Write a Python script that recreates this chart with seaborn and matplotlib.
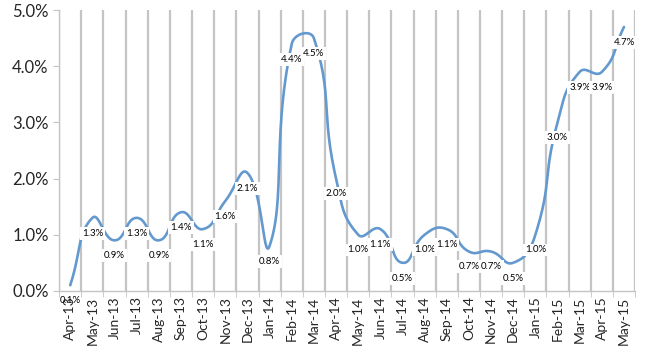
"""
Monthly rate line chart (smoothed, Excel style)
"""
import numpy as np
import pandas as pd
import matplotlib
matplotlib.use('Agg')
import matplotlib.pyplot as plt
import seaborn as sns
from matplotlib.ticker import FuncFormatter, FixedLocator

months = ['Apr-13', 'May-13', 'Jun-13', 'Jul-13', 'Aug-13', 'Sep-13', 'Oct-13',
          'Nov-13', 'Dec-13', 'Jan-14', 'Feb-14', 'Mar-14', 'Apr-14', 'May-14',
          'Jun-14', 'Jul-14', 'Aug-14', 'Sep-14', 'Oct-14', 'Nov-14', 'Dec-14',
          'Jan-15', 'Feb-15', 'Mar-15', 'Apr-15', 'May-15']
rates = [0.1, 1.3, 0.9, 1.3, 0.9, 1.4, 1.1, 1.6, 2.1, 0.8, 4.4, 4.5, 2.0, 1.0,
         1.1, 0.5, 1.0, 1.1, 0.7, 0.7, 0.5, 1.0, 3.0, 3.9, 3.9, 4.7]
y_ticks = [0, 1, 2, 3, 4, 5]

LINE_COLOR = '#6499cf'
GRID_COLOR = '#c4c4c4'


def excel_smooth(x, y, yscale=2.54, tension=0.5, n=30):
    """Bezier smoothing similar to Excel's 'smoothed line' option"""
    px = np.asarray(x, float)
    py = np.asarray(y, float) * yscale
    pts = np.column_stack([px, py])
    pts = np.vstack([pts[0], pts, pts[-1]])
    out = []
    t = np.linspace(0, 1, n)
    for i in range(1, len(pts) - 2):
        p0, p1, p2, p3 = pts[i - 1], pts[i], pts[i + 1], pts[i + 2]
        d01 = np.linalg.norm(p1 - p0)
        d12 = np.linalg.norm(p2 - p1)
        d23 = np.linalg.norm(p3 - p2)
        c1 = p1 + (p2 - p0) * (d12 / (d01 + d12)) * tension if d01 + d12 > 0 else p1
        c2 = p2 - (p3 - p1) * (d12 / (d12 + d23)) * tension if d12 + d23 > 0 else p2
        seg = ((1 - t) ** 3)[:, None] * p1 + (3 * (1 - t) ** 2 * t)[:, None] * c1 \
            + (3 * (1 - t) * t ** 2)[:, None] * c2 + (t ** 3)[:, None] * p2
        out.append(seg if i == 1 else seg[1:])
    curve = np.vstack(out)
    return curve[:, 0], curve[:, 1] / yscale


sns.set_style('white')
plt.rcParams['font.family'] = ['Lato', 'DejaVu Sans']

x_idx = np.arange(len(months))
sx, sy = excel_smooth(x_idx, rates)
curve = pd.DataFrame({'x': sx, 'y': sy})

fig = plt.figure(figsize=(6.5, 3.5), dpi=100)
ax = fig.add_axes([0.091, 0.169, 0.886, 0.802])

sns.lineplot(data=curve, x='x', y='y', sort=False, estimator=None,
             color=LINE_COLOR, linewidth=1.9, ax=ax, zorder=3)

for xi, v in zip(x_idx, rates):
    # labels that fall below the axis need no white box (nothing to hide there)
    box = dict(boxstyle='square,pad=0.2', fc='white', ec='none') if v >= 0.3 else None
    ax.annotate(f'{v:.1f}%', (xi, v), xytext=(0, -11), textcoords='offset points',
                ha='center', va='center', fontsize=7, color='black', zorder=5,
                bbox=box)

ax.set_xlim(-0.5, len(months) - 0.5)
ax.set_ylim(0, 5)
ax.set_xticks(x_idx)
ax.set_xticklabels(months, rotation=90, fontsize=10)
ax.xaxis.set_minor_locator(FixedLocator(np.arange(-0.5, len(months), 1.0)))
ax.set_yticks(y_ticks)
ax.yaxis.set_major_formatter(FuncFormatter(lambda v, p: f'{v:.1f}%'))
ax.tick_params(axis='y', labelsize=12, length=4, color=GRID_COLOR, direction='out', left=True)
ax.tick_params(axis='x', which='major', length=0, pad=4)
ax.tick_params(axis='x', which='minor', length=4, color=GRID_COLOR, bottom=True)
ax.grid(False)
ax.grid(True, axis='x', which='minor', color=GRID_COLOR, linewidth=1.6)
ax.set_axisbelow(True)

for side in ['top', 'right']:
    ax.spines[side].set_visible(False)
for side in ['left', 'bottom']:
    ax.spines[side].set_color(GRID_COLOR)
    ax.spines[side].set_linewidth(1.0)

ax.set_xlabel('')
ax.set_ylabel('')

plt.savefig('out.png', dpi=100)
